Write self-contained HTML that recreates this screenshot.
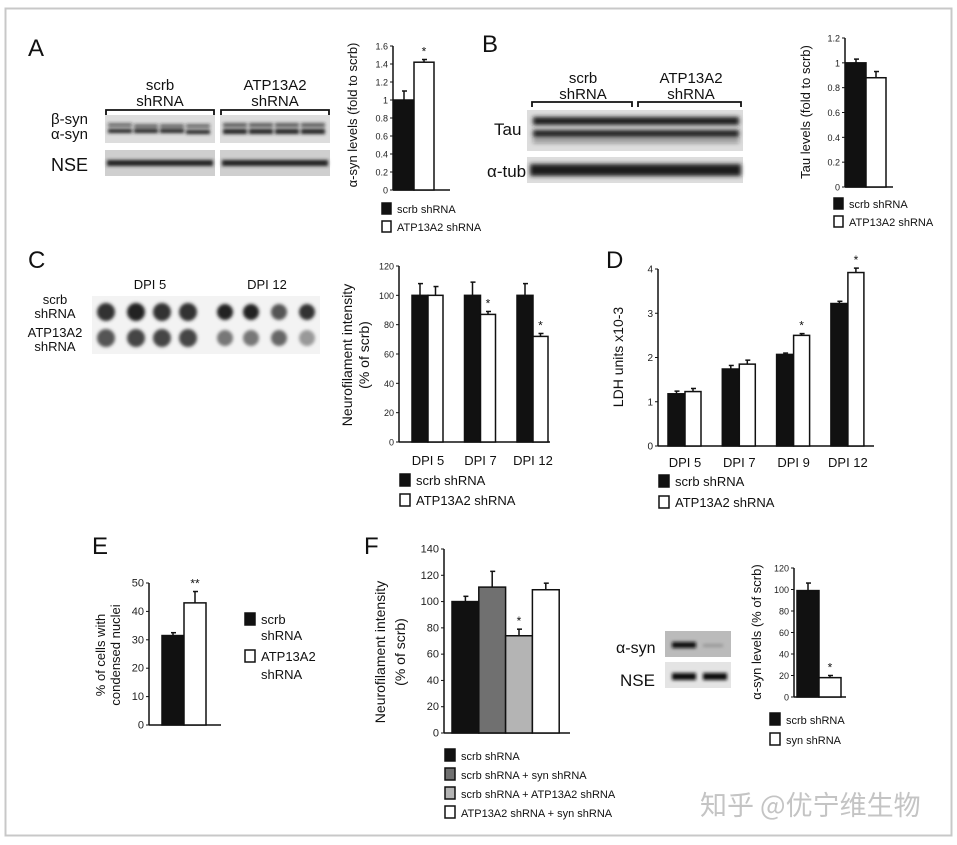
<!DOCTYPE html>
<html><head><meta charset="utf-8"><style>
html,body{margin:0;padding:0;background:#fff;}
svg{display:block;font-family:"Liberation Sans","Noto Sans CJK SC",sans-serif;}
</style></head><body>
<svg id="fig" width="957" height="845" viewBox="0 0 957 845" xmlns="http://www.w3.org/2000/svg">
<defs>
<filter id="blur1" x="-20%" y="-50%" width="140%" height="200%"><feGaussianBlur stdDeviation="1.6"/></filter>
<filter id="blur2" x="-20%" y="-50%" width="140%" height="200%"><feGaussianBlur stdDeviation="2.2"/></filter>
</defs>
<rect x="5.5" y="8.5" width="946" height="827" fill="#fff" stroke="#c8c8c8" stroke-width="2"/>
<g font-size="24" fill="#111">
<text x="28" y="56">A</text>
<text x="482" y="52">B</text>
<text x="28" y="268">C</text>
<text x="606" y="268">D</text>
<text x="92" y="554">E</text>
<text x="364" y="554">F</text>
</g>
<!-- Blot A -->
<g font-size="15" fill="#111">
<text x="160" y="90" text-anchor="middle">scrb</text><text x="160" y="106" text-anchor="middle">shRNA</text>
<text x="275" y="90" text-anchor="middle">ATP13A2</text><text x="275" y="106" text-anchor="middle">shRNA</text>
<path d="M106 115 V110 H214 V115 M221 115 V110 H329 V115" fill="none" stroke="#111" stroke-width="1.8"/>
<text x="51" y="124">β-syn</text><text x="51" y="139">α-syn</text>
<text x="51" y="171" font-size="18">NSE</text>
<rect x="105" y="115" width="110" height="28" fill="#ddd"/><rect x="220" y="115" width="110" height="28" fill="#ddd"/>
<rect x="105" y="150" width="110" height="26" fill="#cfcfcf"/><rect x="220" y="150" width="110" height="26" fill="#cfcfcf"/>
<g filter="url(#blur1)" fill="#222">
<rect x="108" y="123" width="24" height="4" opacity=".6"/><rect x="134" y="124" width="24" height="4" opacity=".6"/><rect x="160" y="124" width="24" height="4" opacity=".6"/><rect x="186" y="124" width="24" height="4" opacity=".6"/>
<rect x="108" y="129" width="24" height="4"/><rect x="134" y="129" width="24" height="4"/><rect x="160" y="129" width="24" height="4"/><rect x="186" y="130" width="24" height="4"/>
<rect x="223" y="123" width="24" height="4" opacity=".7"/><rect x="249" y="123" width="24" height="4" opacity=".7"/><rect x="275" y="123" width="24" height="4" opacity=".7"/><rect x="301" y="123" width="24" height="4" opacity=".7"/>
<rect x="223" y="129" width="24" height="5"/><rect x="249" y="129" width="24" height="5"/><rect x="275" y="129" width="24" height="5"/><rect x="301" y="129" width="24" height="5"/>
<rect x="107" y="160" width="106" height="6"/><rect x="222" y="160" width="106" height="6"/>
</g></g>
<!-- Blot B -->
<g font-size="15" fill="#111">
<text x="583" y="83" text-anchor="middle">scrb</text><text x="583" y="99" text-anchor="middle">shRNA</text>
<text x="691" y="83" text-anchor="middle">ATP13A2</text><text x="691" y="99" text-anchor="middle">shRNA</text>
<path d="M532 107 V102 H632 V107 M638 107 V102 H741 V107" fill="none" stroke="#111" stroke-width="1.8"/>
<text x="494" y="135" font-size="17">Tau</text>
<text x="487" y="177" font-size="17">α-tub</text>
<rect x="527" y="110" width="216" height="41" fill="#ddd"/>
<rect x="527" y="157" width="216" height="26" fill="#ddd"/>
<g filter="url(#blur2)" fill="#1a1a1a">
<rect x="533" y="117" width="206" height="8"/><rect x="533" y="130" width="206" height="7"/><rect x="533" y="139" width="206" height="4" opacity=".4"/>
<rect x="530" y="164" width="211" height="12"/>
</g></g>
<!-- Blot C -->
<g font-size="13" fill="#111">
<text x="150" y="289" text-anchor="middle">DPI 5</text><text x="267" y="289" text-anchor="middle">DPI 12</text>
<text x="55" y="304" text-anchor="middle">scrb</text><text x="55" y="318" text-anchor="middle">shRNA</text>
<text x="55" y="337" text-anchor="middle">ATP13A2</text><text x="55" y="351" text-anchor="middle">shRNA</text>
<rect x="92" y="296" width="228" height="58" fill="#f3f3f3"/>
<g filter="url(#blur1)">
<circle cx="106" cy="312" r="9" fill="#333"/><circle cx="136" cy="312" r="9" fill="#222"/><circle cx="162" cy="312" r="9" fill="#333"/><circle cx="188" cy="312" r="9" fill="#333"/>
<circle cx="225" cy="312" r="8" fill="#222"/><circle cx="251" cy="312" r="8" fill="#222"/><circle cx="279" cy="312" r="8" fill="#555"/><circle cx="307" cy="312" r="8" fill="#333"/>
<circle cx="106" cy="338" r="9" fill="#555"/><circle cx="136" cy="338" r="9" fill="#444"/><circle cx="162" cy="338" r="9" fill="#444"/><circle cx="188" cy="338" r="9" fill="#444"/>
<circle cx="225" cy="338" r="8" fill="#777"/><circle cx="251" cy="338" r="8" fill="#777"/><circle cx="279" cy="338" r="8" fill="#666"/><circle cx="307" cy="338" r="8" fill="#999"/>
</g></g>
<!-- Blot F -->
<g font-size="16" fill="#111">
<text x="616" y="653">α-syn</text><text x="620" y="686" font-size="17">NSE</text>
<rect x="665" y="631" width="66" height="26" fill="#bbb"/>
<rect x="665" y="662" width="66" height="26" fill="#e4e4e4"/>
<g filter="url(#blur1)" fill="#111"><rect x="672" y="642" width="24" height="6"/><rect x="672" y="673" width="24" height="7"/><rect x="703" y="673" width="24" height="7"/><rect x="703" y="644" width="20" height="3" opacity=".2"/></g>
</g>
<text x="700" y="815" font-size="27" fill="#c4c4c4" font-family="'Noto Sans CJK SC',sans-serif">知乎 @优宁维生物</text>
<g id="charts"></g>
</svg>
<script>
// Chart A
const aCats = ["scrb shRNA","ATP13A2 shRNA"];
const aVals = [1.0, 1.42];
const aErrs = [0.1, 0.03];
const aTicks = [0,0.2,0.4,0.6,0.8,1,1.2,1.4,1.6];
const aStars = ["","*"];
// Chart B
const bCats = ["scrb shRNA","ATP13A2 shRNA"];
const bVals = [1.0, 0.88];
const bErrs = [0.03, 0.05];
const bTicks = [0,0.2,0.4,0.6,0.8,1,1.2];
const bStars = ["",""];
// Chart C
const cCats = ["DPI 5","DPI 7","DPI 12"];
const cScrb = [100,100,100];
const cScrbErr = [8,9,8];
const cAtp = [100,87,72];
const cAtpErr = [6,2,2];
const cStars = ["","*","*"];
const cTicks = [0,20,40,60,80,100,120];
// Chart D
const dCats = ["DPI 5","DPI 7","DPI 9","DPI 12"];
const dScrb = [1.18,1.74,2.07,3.22];
const dScrbErr = [0.06,0.08,0.03,0.05];
const dAtp = [1.23,1.85,2.5,3.92];
const dAtpErr = [0.07,0.09,0.04,0.1];
const dStars = ["","","*","*"];
const dTicks = [0,1,2,3,4];
// Chart E
const eCats = ["scrb shRNA","ATP13A2 shRNA"];
const eVals = [31.5, 43];
const eErrs = [1, 4];
const eTicks = [0,10,20,30,40,50];
const eStars = ["","**"];
// Chart F
const fCats = ["scrb shRNA","scrb shRNA + syn shRNA","scrb shRNA + ATP13A2 shRNA","ATP13A2 shRNA + syn shRNA"];
const fVals = [100,111,74,109];
const fErrs = [4,12,5,5];
const fTicks = [0,20,40,60,80,100,120,140];
const fStars = ["","","*",""];
// Chart F2
const gCats = ["scrb shRNA","syn shRNA"];
const gVals = [99, 18];
const gErrs = [7, 2];
const gTicks = [0,20,40,60,80,100,120];
const gStars = ["","*"];

const NS="http://www.w3.org/2000/svg";
const root=document.getElementById('charts');
function mk(tag,attrs,parent){const e=document.createElementNS(NS,tag);for(const k in attrs)e.setAttribute(k,attrs[k]);(parent||root).appendChild(e);return e;}
function scaleY(y0,yTop,maxV){return v=>y0-(v/maxV)*(y0-yTop);}

function axes(g,ax,y0,yTop,xEnd,ticks,fs,fmt){
  const sy=scaleY(y0,yTop,ticks[ticks.length-1]);
  const yl=mk('line',{x1:ax,y1:y0,x2:ax,y2:yTop,stroke:'#111','stroke-width':1.5},g);
  
  
  const xl=mk('line',{x1:ax,y1:y0,x2:xEnd,y2:y0,stroke:'#111','stroke-width':1.5},g);
  
  
  ticks.forEach(t=>{
    const y=sy(t);
    const tk=mk('line',{x1:ax-3,y1:y,x2:ax,y2:y,stroke:'#111','stroke-width':1},g);
    
    
    const tl=mk('text',{x:ax-5,y:y+3.5,'font-size':fs,'text-anchor':'end',fill:'#222'},g);
    
    
    tl.textContent=fmt?fmt(t):String(t);
  });
  return sy;
}
function bar(g,x,w,v,err,sy,fill,star,name){
  const y0=sy(0),y=sy(v);
  const el=mk('line',{x1:x+w/2,y1:y,x2:x+w/2,y2:sy(v+err),stroke:'#111','stroke-width':1.5},g);
  
  
  const cap=mk('line',{x1:x+w/2-2,y1:sy(v+err),x2:x+w/2+3,y2:sy(v+err),stroke:'#111','stroke-width':1.5},g);
  
  
  const r=mk('rect',{x:x,y:y,width:w,height:y0-y,fill:fill,stroke:'#111','stroke-width':1.5},g);
  
  
  if(star){const s=mk('text',{x:x+w/2,y:sy(v+err)-4,'font-size':12,'text-anchor':'middle',fill:'#111'},g);
    
    
    s.textContent=star;}
}
function legend(g,x,y,fill,label,fs,sq){
  const r=mk('rect',{x:x,y:y-sq+1,width:sq-2,height:sq,fill:fill,stroke:'#111','stroke-width':1.5},g);
  
  
  const t=mk('text',{x:x+sq+4,y:y,'font-size':fs,fill:'#111'},g);
  
  
  t.textContent=label;
  return t;
}
function ytitle(g,x,cy,lines,fs,gap){
  lines.forEach((l,i)=>{
    const t=mk('text',{x:0,y:0,'font-size':fs,'text-anchor':'middle',fill:'#111',transform:`translate(${x+i*gap},${cy}) rotate(-90)`},g);
    
    
    t.textContent=l;
  });
}
const fills2=['#111','#fff'];

// Chart A
{const g=mk('g',{});


const sy=axes(g,393,190,46,450,aTicks,9,null);
aVals.forEach((v,i)=>bar(g,394+i*20,20,v,aErrs[i],sy,fills2[i],aStars[i],'bar-a-'+i));
aCats.forEach((c,i)=>legend(g,382,213+i*18,fills2[i],c,11,11));
ytitle(g,357,115,['α-syn levels (fold to scrb)'],13,0);}
// Chart B
{const g=mk('g',{});


const sy=axes(g,845,187,38,893,bTicks,9,null);
bVals.forEach((v,i)=>bar(g,846+i*20,20,v,bErrs[i],sy,fills2[i],bStars[i],'bar-b-'+i));
bCats.forEach((c,i)=>legend(g,834,208+i*18,fills2[i],c,11,11));
ytitle(g,810,112,['Tau levels (fold to scrb)'],13,0);}
// Chart C
{const g=mk('g',{});


const sy=axes(g,399,442,266,550,cTicks,9,null);
cCats.forEach((c,i)=>{
  const x=412+i*52.5;
  bar(g,x,16,cScrb[i],cScrbErr[i],sy,'#111','', 'bar-c-scrb-'+i);
  bar(g,x+16,15,cAtp[i],cAtpErr[i],sy,'#fff',cStars[i],'bar-c-atp-'+i);
  const t=mk('text',{x:x+16,y:465,'font-size':13,'text-anchor':'middle',fill:'#111'},g);
  
  
  t.textContent=c;});
legend(g,400,485,'#111','scrb shRNA',13,12);
legend(g,400,505,'#fff','ATP13A2 shRNA',13,12);
ytitle(g,352,355,['Neurofilament intensity','(% of scrb)'],14,17);}
// Chart D
{const g=mk('g',{});


const sy=axes(g,658,446,269,874,dTicks,10,null);
dCats.forEach((c,i)=>{
  const x=668+i*54.3;
  bar(g,x,17,dScrb[i],dScrbErr[i],sy,'#111','','bar-d-scrb-'+i);
  bar(g,x+17,16,dAtp[i],dAtpErr[i],sy,'#fff',dStars[i],'bar-d-atp-'+i);
  const t=mk('text',{x:x+17,y:467,'font-size':13,'text-anchor':'middle',fill:'#111'},g);
  
  
  t.textContent=c;});
legend(g,659,486,'#111','scrb shRNA',13,12);
legend(g,659,507,'#fff','ATP13A2 shRNA',13,12);
ytitle(g,623,357,['LDH units x10-3'],14,0);}
// Chart E
{const g=mk('g',{});


const sy=axes(g,149,725,583,221,eTicks,11,null);
eVals.forEach((v,i)=>bar(g,162+i*22,22,v,eErrs[i],sy,fills2[i],eStars[i],'bar-e-'+i));
legend(g,245,624,'#111','scrb',13,12);
legend(g,245,661,'#fff','ATP13A2',13,12);
[['shRNA',640],['shRNA',679]].forEach(p=>{const t=mk('text',{x:261,y:p[1],'font-size':13,fill:'#111'},g);
  
  
  t.textContent=p[0];});
ytitle(g,105,655,['% of cells with','condensed nuclei'],13,15);}
// Chart F
{const g=mk('g',{});


const sy=axes(g,444,733,549,570,fTicks,11,null);
const ff=['#111','#707070','#b4b4b4','#fff'];
fVals.forEach((v,i)=>bar(g,452+i*26.8,26.8,v,fErrs[i],sy,ff[i],fStars[i],'bar-f-'+i));
fCats.forEach((c,i)=>legend(g,445,760+i*19,ff[i],c,11,12));
ytitle(g,385,652,['Neurofilament intensity','(% of scrb)'],14,20);}
// Chart F2
{const g=mk('g',{});


const sy=axes(g,794,697,568,846,gTicks,9,null);
gVals.forEach((v,i)=>bar(g,797+i*22,22,v,gErrs[i],sy,fills2[i],gStars[i],'bar-g-'+i));
gCats.forEach((c,i)=>legend(g,770,724+i*20,fills2[i],c,11,12));
ytitle(g,761,632,['α-syn levels (% of scrb)'],13,0);}
</script>
</body></html>
